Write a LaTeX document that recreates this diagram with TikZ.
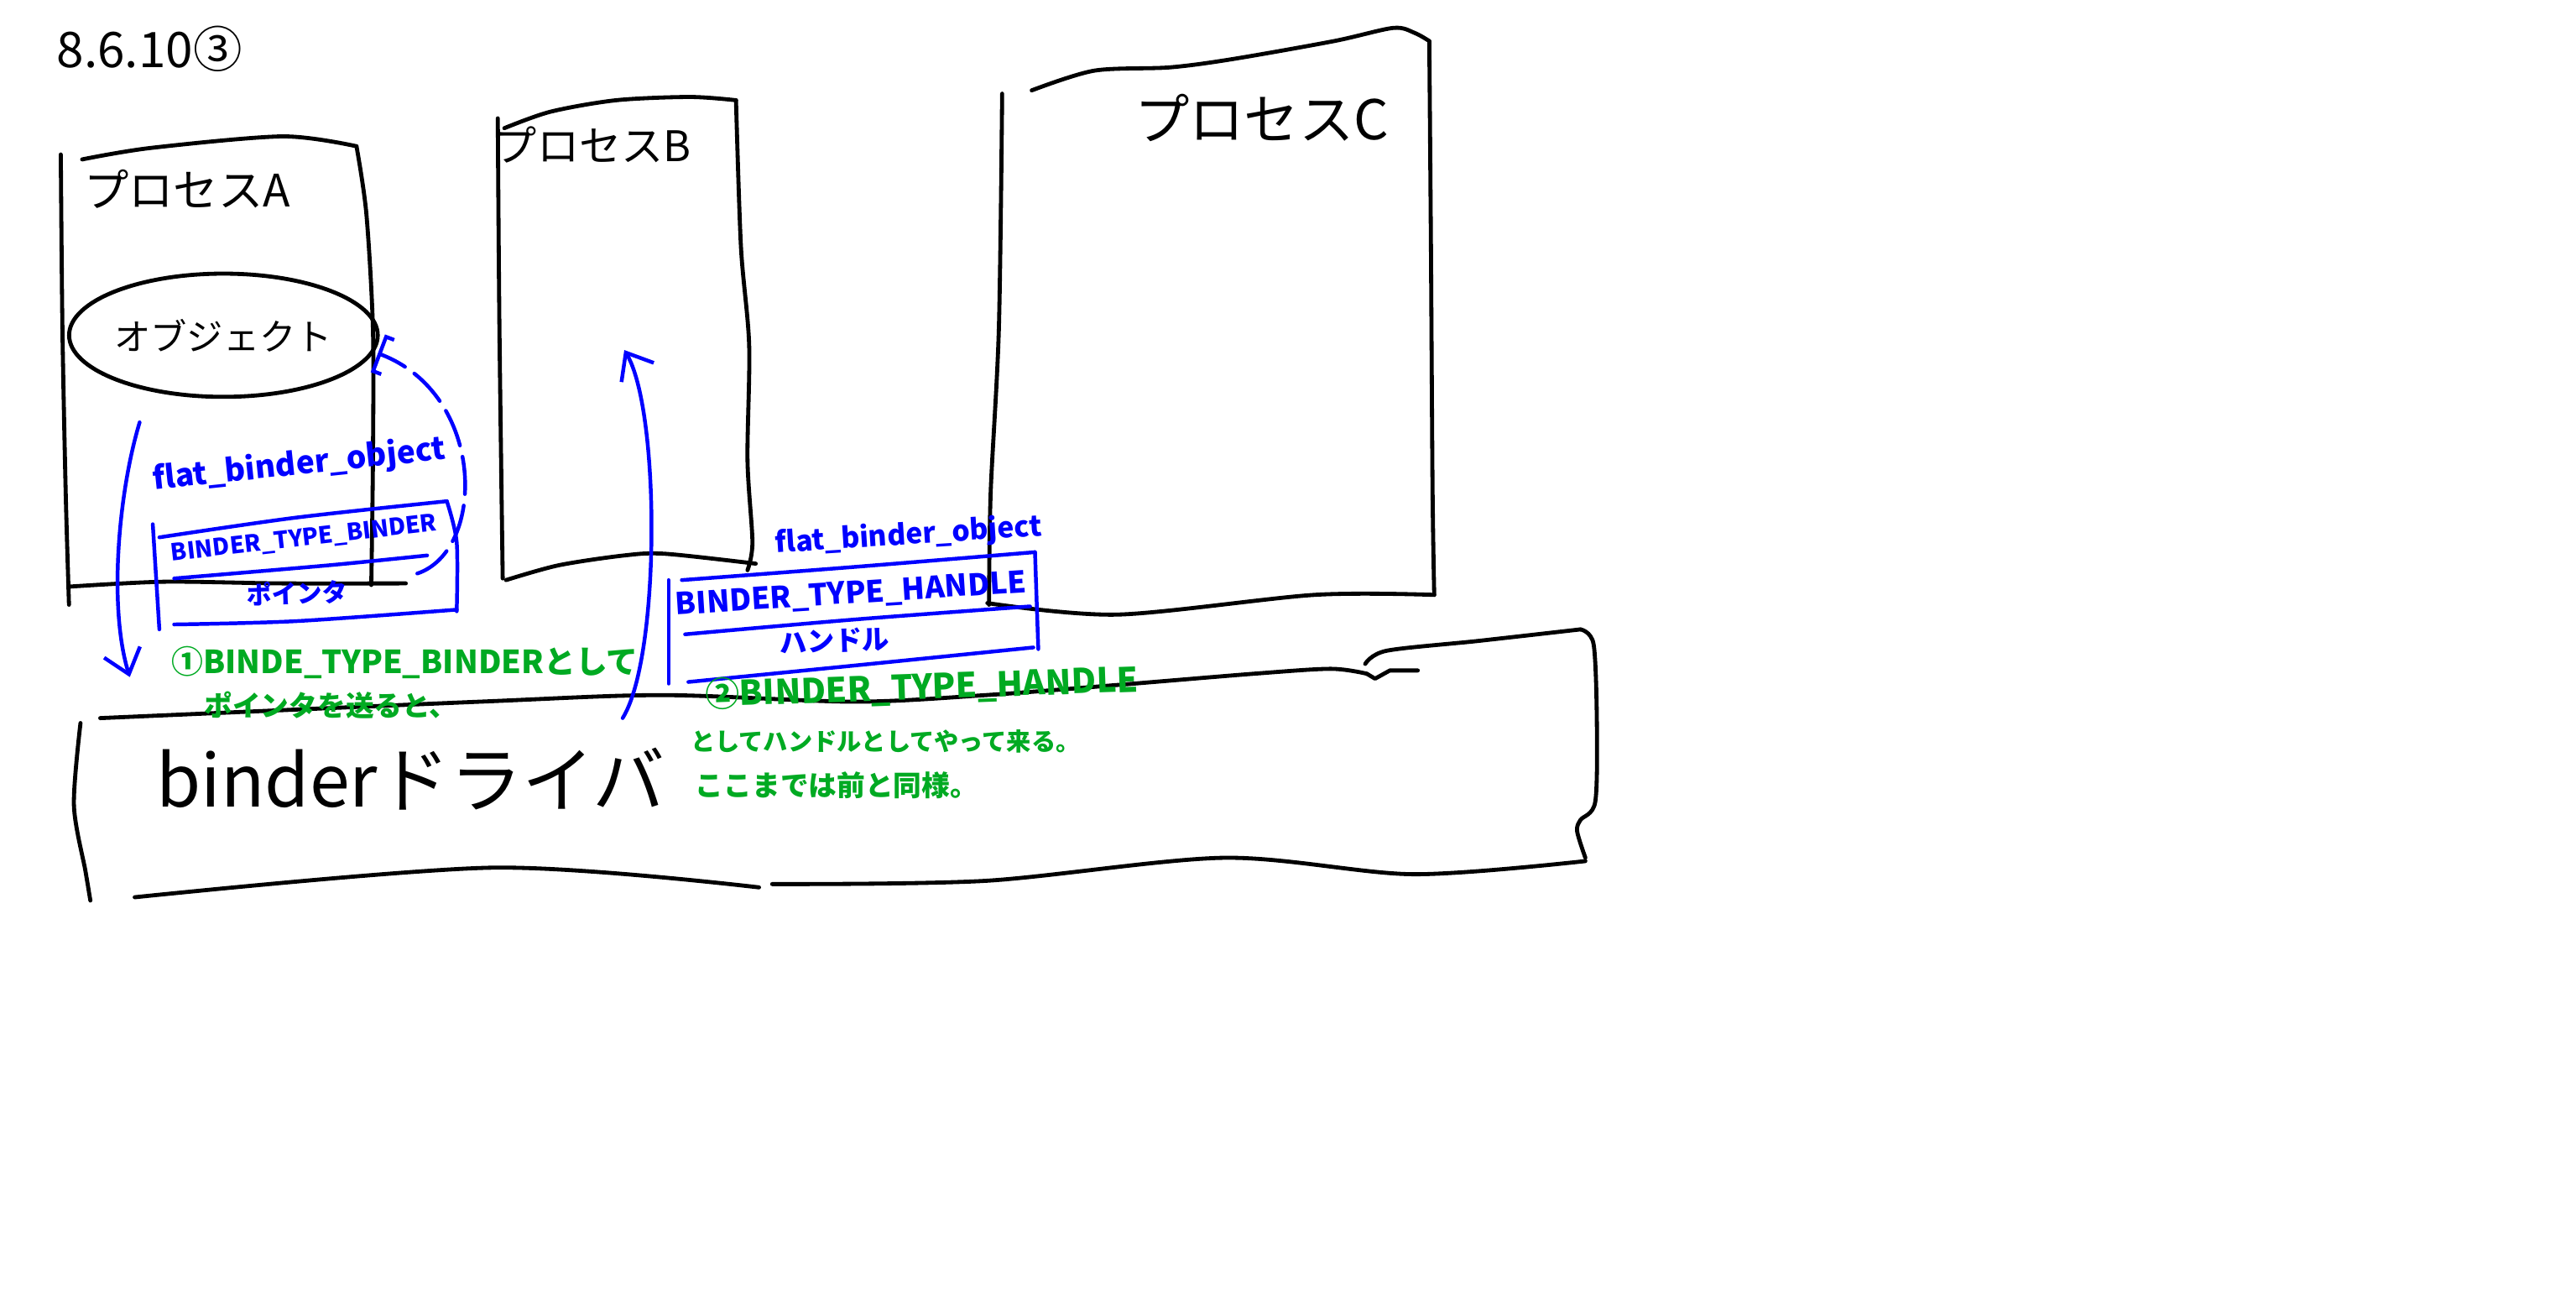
\documentclass[tikz,border=0pt]{standalone}
\usepackage{fontspec}
\setmainfont{Noto Sans CJK JP}
\usetikzlibrary{arrows.meta,shapes.geometric}
\definecolor{inkblue}{RGB}{0,0,255}
\definecolor{inkgreen}{RGB}{0,170,34}
\newcommand{\fsz}[1]{\fontsize{#1}{#1}\selectfont}
\begin{document}
\begin{tikzpicture}[x=0.02cm,y=-0.02cm,
  blackline/.style={line width=1.4pt, line cap=round, line join=round},
  blueline/.style={inkblue, line width=1.3pt, line cap=round, line join=round},
  bluetxt/.style={inkblue, inner sep=0pt},
  greentxt/.style={inkgreen, inner sep=0pt, anchor=west},
  blacktxt/.style={inner sep=0pt},
  ptrarrow/.style={blueline, -{Straight Barb[length=8pt,width=13pt]}},
  dashlink/.style={blueline, dash pattern=on 13pt off 4pt, -{Bracket[width=14pt,length=3pt]}},
  ]
\useasboundingbox (0,0) rectangle (1568,785);

% ---------- process A ----------
\draw[blackline] plot[smooth] coordinates {(37,94) (38,200) (40,300) (42,368)};
\draw[blackline] plot[smooth] coordinates {(50,97) (92,90) (172,83) (217,89)};
\draw[blackline] plot[smooth] coordinates {(217,89) (223,130) (227,200) (227,280) (226,356)};
\draw[blackline] plot[smooth] coordinates {(42,357) (100,354) (170,355) (247,355)};
\node[blacktxt, font=\fsz{15.5pt}] (labA) at (114,115) {プロセスA};
\node[ellipse, draw, line width=1.4pt, minimum width=3.16cm, minimum height=1.5cm, inner sep=0pt, font=\fsz{12.6pt}] (obj) at (136,204) {オブジェクト};

% ---------- process B ----------
\draw[blackline] plot[smooth] coordinates {(303,72) (304,200) (306,352)};
\draw[blackline] plot[smooth] coordinates {(307,78) (335,68) (375,61) (420,59) (448,61)};
\draw[blackline] plot[smooth] coordinates {(448,61) (451,150) (456,210) (455,280) (458,330) (455,347)};
\draw[blackline] plot[smooth] coordinates {(308,353) (340,344) (380,338) (405,337) (460,343)};
\node[blacktxt, font=\fsz{14.6pt}] (labB) at (361,88) {プロセスB};

% ---------- process C ----------
\draw[blackline] plot[smooth] coordinates {(610,57) (608,200) (603,300) (602,368)};
\draw[blackline] plot[smooth] coordinates {(628,55) (666,43) (712,41) (750,36) (812,25) (848,17) (861,20) (870,25)};
\draw[blackline] plot[smooth] coordinates {(870,25) (871,150) (872,300) (873,362)};
\draw[blackline] plot[smooth] coordinates {(601,367) (680,374) (800,362) (873,362)};
\node[blacktxt, font=\fsz{19pt}] (labC) at (768,72) {プロセスC};

% ---------- binder driver ----------
\draw[blackline] plot[smooth] coordinates {(49,440) (45,490) (52,530) (55,548)};
\draw[blackline] plot[smooth] coordinates {(61,437) (292,427) (403,423) (520,427) (600,423) (678,417) (763,410) (810,407) (832,410)};
\draw[blackline] (832,410) -- (837,413) -- (846,408) -- (863,408);
\draw[blackline] plot[smooth] coordinates {(831,404) (844,396) (900,390) (962,383)};
\draw[blackline] plot[smooth] coordinates {(962,383) (970,392) (972,440) (971,488) (962,499) (960,506) (965,522)};
\draw[blackline] plot[smooth] coordinates {(965,524) (860,532) (745,522) (600,536) (470,538)};
\draw[blackline] plot[smooth] coordinates {(462,540) (300,528) (82,546)};
\node[blacktxt, font=\fsz{25pt}] (drv) at (250,474) {binderドライバ};

% ---------- title ----------
\node[blacktxt, font=\fsz{17pt}] (title) at (91,30) {8.6.10③};

% ---------- flat_binder_object in A ----------
\draw[blueline] (93,319) -- (97,383);
\draw[blueline] plot[smooth] coordinates {(97,327) (180,315) (272,305)};
\draw[blueline] plot[smooth] coordinates {(272,305) (278,330) (278,372)};
\draw[blueline] plot[smooth] coordinates {(106,380) (180,378) (278,371)};
\draw[blueline] plot[smooth] coordinates {(106,352) (200,344) (260,338)};
\node[bluetxt, rotate=6, font=\fsz{10.8pt}\bfseries] (fboA) at (182,283) {flat\_binder\_object};
\node[bluetxt, rotate=6.5, font=\fsz{8.1pt}\bfseries] (bttb) at (185,328) {BINDER\_TYPE\_BINDER};
\node[bluetxt, rotate=2, font=\fsz{8.7pt}\bfseries] (ptrtxt) at (181,361) {ポインタ};

% ---------- flat_binder_object in driver ----------
\draw[blueline] (407,353) -- (407,416);
\draw[blueline] plot[smooth] coordinates {(415,353) (520,345) (630,336)};
\draw[blueline] (630,336) -- (632,395);
\draw[blueline] plot[smooth] coordinates {(419,415) (520,405) (629,394)};
\draw[blueline] plot[smooth] coordinates {(417,386) (520,377) (627,369)};
\node[bluetxt, rotate=3.7, font=\fsz{9.8pt}\bfseries] (fboB) at (553,326) {flat\_binder\_object};
\node[bluetxt, rotate=3.7, font=\fsz{10.4pt}\bfseries] (btth) at (518,362) {BINDER\_TYPE\_HANDLE};
\node[bluetxt, rotate=2, font=\fsz{9.5pt}\bfseries] (hdl) at (508,390) {ハンドル};

% ---------- connectors ----------
\coordinate (a1s) at (85,257);
\coordinate (a1e) at (79,412);
\draw[ptrarrow] (a1s) .. controls (72,300) and (66,370) .. (a1e);
\coordinate (a2s) at (379,437);
\coordinate (a2e) at (380,213);
\draw[ptrarrow] (a2s) .. controls (402,400) and (402,250) .. (a2e);
\coordinate (d1) at (254,349);
\coordinate (d2) at (230,215);
\draw[dashlink] (d1) .. controls (296,335) and (296,240) .. (d2);

% ---------- green notes ----------
\node[greentxt, font=\fsz{11pt}\bfseries] (g1) at (104,403) {①BINDE\_TYPE\_BINDERとして};
\node[greentxt, font=\fsz{9.8pt}\bfseries] (g2) at (124,429) {ポインタを送ると、};
\node[greentxt, rotate=2, font=\fsz{11.8pt}\bfseries] (g3) at (429,423) {②BINDER\_TYPE\_HANDLE};
\node[greentxt, font=\fsz{8.5pt}\bfseries] (g4) at (420,451) {としてハンドルとしてやって来る。};
\node[greentxt, font=\fsz{9.8pt}\bfseries] (g5) at (423,478) {ここまでは前と同様。};
\end{tikzpicture}
\end{document}
